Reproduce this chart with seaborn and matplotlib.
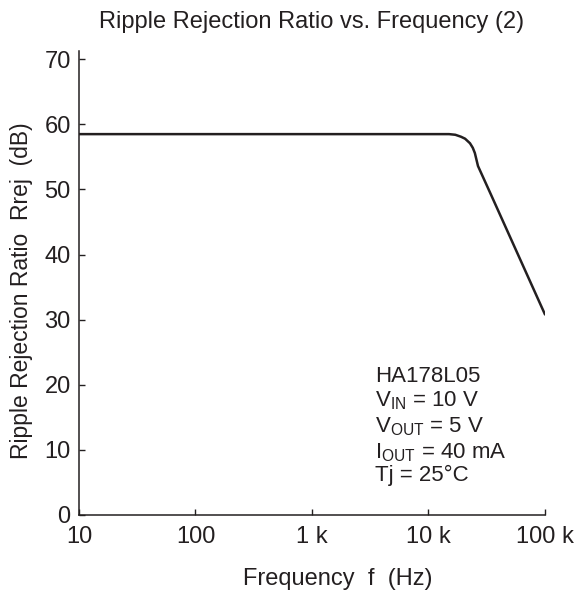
import numpy as np
import pandas as pd
import seaborn as sns
import matplotlib.pyplot as plt

# values
freq_hz = [10, 100, 1000, 10000, 15000, 17000, 19000, 20600, 22700, 24000, 25000, 26600, 34400, 100000]
rej_db = [58.5, 58.5, 58.5, 58.5, 58.5, 58.4, 58.1, 57.8, 57.1, 56.4, 55.6, 53.6, 49.2, 30.8]

xtick_vals = [10, 100, 1000, 10000, 100000]
xtick_labels = ['10', '100', '1 k', '10 k', '100 k']
ytick_vals = [0, 10, 20, 30, 40, 50, 60, 70]

note_lines = ['HA178L05',
              r'V$_{\mathrm{IN}}$ = 10 V',
              r'V$_{\mathrm{OUT}}$ = 5 V',
              r'I$_{\mathrm{OUT}}$ = 40 mA',
              'Tj = 25°C']

sns.set_style('ticks')
plt.rcParams['font.family'] = ['Liberation Sans', 'DejaVu Sans']
plt.rcParams['mathtext.fontset'] = 'custom'
plt.rcParams['mathtext.rm'] = 'Liberation Sans'
plt.rcParams['mathtext.it'] = 'Liberation Sans'

ink = '#231f20'
df = pd.DataFrame({'f': freq_hz, 'rej': rej_db})

fig = plt.figure(figsize=(5.83, 5.92), dpi=100)
ax = fig.add_axes([0.1355, 0.1301, 0.7993, 0.783])
sns.lineplot(data=df, x='f', y='rej', ax=ax, color=ink, linewidth=1.8)

ax.set_xscale('log')
ax.set_xlim(10, 100000)
ax.set_ylim(0, 71.2)
ax.set_xticks(xtick_vals)
ax.set_xticklabels(xtick_labels)
ax.minorticks_off()
ax.set_yticks(ytick_vals)
ax.tick_params(direction='in', length=4, width=1, labelsize=17, colors=ink)
ax.tick_params(axis='x', pad=8)
ax.tick_params(axis='y', pad=6)

for s in ['top', 'right']:
    ax.spines[s].set_visible(False)
for s in ['left', 'bottom']:
    ax.spines[s].set_color(ink)
    ax.spines[s].set_linewidth(1.1)

ax.set_xlabel('Frequency  f  (Hz)', fontsize=17, color=ink)
ax.xaxis.set_label_coords(0.556, -0.114)
ax.set_ylabel('Ripple Rejection Ratio  Rrej  (dB)', fontsize=16.5, color=ink)
ax.yaxis.set_label_coords(-0.099, 0.484)
fig.text(312 / 583, 1 - 22 / 592, 'Ripple Rejection Ratio vs. Frequency (2)',
         fontsize=17, color=ink, ha='center', va='center')

baselines = [382, 407, 433, 458, 481]
for line, yb in zip(note_lines, baselines):
    ax.text(0.635, (515 - yb) / 463, line, transform=ax.transAxes, fontsize=16,
            color=ink, ha='left', va='baseline')

fig.savefig('out.png', dpi=100)
